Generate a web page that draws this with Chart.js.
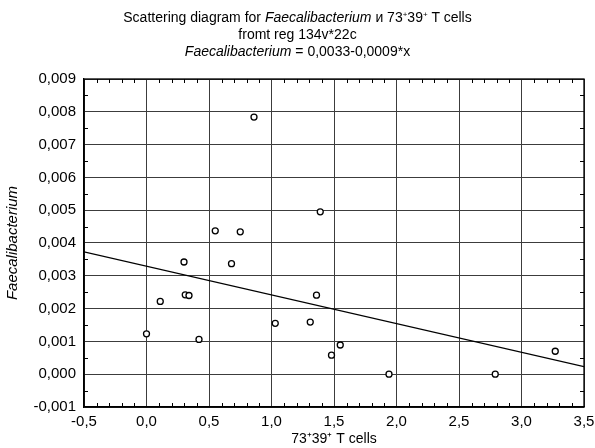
<!DOCTYPE html>
<html>
<head>
<meta charset="utf-8">
<script src="https://cdn.jsdelivr.net/npm/chart.js@4.4.1/dist/chart.umd.min.js"></script>
<style>
  html, body { margin: 0; padding: 0; background: #fff; }
  #wrap { position: relative; width: 595px; height: 448px; }
  canvas { position: absolute; left: 0; top: 0; }
  .t { position: absolute; left: 0; width: 595px; text-align: center;
       font-family: "Liberation Sans", Arial, sans-serif; font-size: 14px; color: #000; line-height: 17px; }
  .t sup { font-size: 8px; vertical-align: 5px; line-height: 0; }
</style>
</head>
<body>
<div id="wrap">
  <canvas id="c" width="595" height="448"></canvas>
  <div class="t" style="top:9px">Scattering diagram for <i>Faecalibacterium</i> и 73<sup>+</sup>39<sup>+</sup> T cells</div>
  <div class="t" style="top:26px">fromt reg 134v*22c</div>
  <div class="t" style="top:43px"><i>Faecalibacterium</i> = 0,0033-0,0009*x</div>
</div>
<script>
// Data
const pointsX = [0.86, 1.39, 0.55, 0.75, 0.30, 0.68, 0.31, 0.34, 0.11, 0.00, 0.42, 1.36, 1.03, 1.31, 1.48, 1.55, 1.94, 2.79, 3.27];
const pointsY = [0.00784, 0.00495, 0.00437, 0.00434, 0.00342, 0.00337, 0.00242, 0.00240, 0.00222, 0.00123, 0.00106, 0.00241, 0.00155, 0.00159, 0.00058, 0.00089, 0.00000, 0.00000, 0.00070];
const fitX = [-0.5, 3.5];
const fitY = [0.00373, 0.00023];
const xTicks = [-0.5, 0.0, 0.5, 1.0, 1.5, 2.0, 2.5, 3.0, 3.5];
const yTicks = [-0.001, 0.000, 0.001, 0.002, 0.003, 0.004, 0.005, 0.006, 0.007, 0.008, 0.009];

const fmt = (v, d) => v.toFixed(d).replace('.', ',');

const frame = {
  id: 'frame',
  afterDraw(chart) {
    const { ctx, chartArea: a, scales } = chart;
    const x = scales.x, y = scales.y;
    ctx.save();
    ctx.strokeStyle = '#000';
    ctx.lineWidth = 1;
    const len = 4;
    ctx.beginPath();
    for (let i = 0; i < xTicks.length - 1; i++) {
      for (let k = 1; k < 5; k++) {
        const v = xTicks[i] + (xTicks[i + 1] - xTicks[i]) * k / 5;
        const px = Math.round(x.getPixelForValue(v)) + 0.5;
        ctx.moveTo(px, a.bottom); ctx.lineTo(px, a.bottom - len);
        ctx.moveTo(px, a.top); ctx.lineTo(px, a.top + len);
      }
    }
    for (let i = 0; i < yTicks.length - 1; i++) {
      const v = (yTicks[i] + yTicks[i + 1]) / 2;
      const py = Math.round(y.getPixelForValue(v)) + 0.5;
      ctx.moveTo(a.left, py); ctx.lineTo(a.left + len, py);
      ctx.moveTo(a.right, py); ctx.lineTo(a.right - len, py);
    }
    ctx.stroke();
    ctx.lineWidth = 1.3;
    ctx.strokeRect(a.left, a.top, a.right - a.left, a.bottom - a.top);
    ctx.restore();
  }
};

new Chart(document.getElementById('c'), {
  type: 'scatter',
  data: {
    datasets: [
      {
        type: 'line',
        data: fitX.map((v, i) => ({ x: v, y: fitY[i] })),
        borderColor: '#000',
        borderWidth: 1.3,
        pointRadius: 0,
        fill: false,
        order: 2
      },
      {
        data: pointsX.map((v, i) => ({ x: v, y: pointsY[i] })),
        pointRadius: 3,
        pointBorderWidth: 1.3,
        pointBorderColor: '#000',
        pointBackgroundColor: '#fff',
        order: 1
      }
    ]
  },
  options: {
    responsive: false,
    animation: false,
    devicePixelRatio: 1,
    layout: { padding: { top: 79, right: 11, bottom: 0, left: 0 } },
    plugins: { legend: { display: false }, tooltip: { enabled: false }, title: { display: false } },
    scales: {
      x: {
        type: 'linear',
        min: -0.5, max: 3.5,
        afterBuildTicks: s => { s.ticks = xTicks.map(v => ({ value: v })); },
        afterFit: s => { s.height = 41; s.paddingRight = 0; s.paddingLeft = 0; },
        grid: { color: '#3c3c3c', lineWidth: 1, drawTicks: false },
        border: { display: true, color: '#000', width: 1.3 },
        ticks: { padding: 6, color: '#000', font: { family: 'Liberation Sans', size: 15 }, callback: v => fmt(v, 1), maxRotation: 0 },
        title: { display: true, text: '73⁺39⁺ T cells', color: '#000', padding: { top: 0, bottom: 0 }, font: { family: 'Liberation Sans', size: 14 } }
      },
      y: {
        type: 'linear',
        min: -0.001, max: 0.009,
        afterBuildTicks: s => { s.ticks = yTicks.map(v => ({ value: v })); },
        afterFit: s => { s.width = 84; },
        grid: { color: '#3c3c3c', lineWidth: 1, drawTicks: false },
        border: { display: true, color: '#000', width: 1.3 },
        ticks: { padding: 8, color: '#000', font: { family: 'Liberation Sans', size: 15 }, callback: v => fmt(v, 3) },
        title: { display: true, text: 'Faecalibacterium', color: '#000', padding: { top: 4, bottom: 0 }, font: { family: 'Liberation Sans', size: 15, style: 'italic' } }
      }
    }
  },
  plugins: [frame]
});
</script>
</body>
</html>
